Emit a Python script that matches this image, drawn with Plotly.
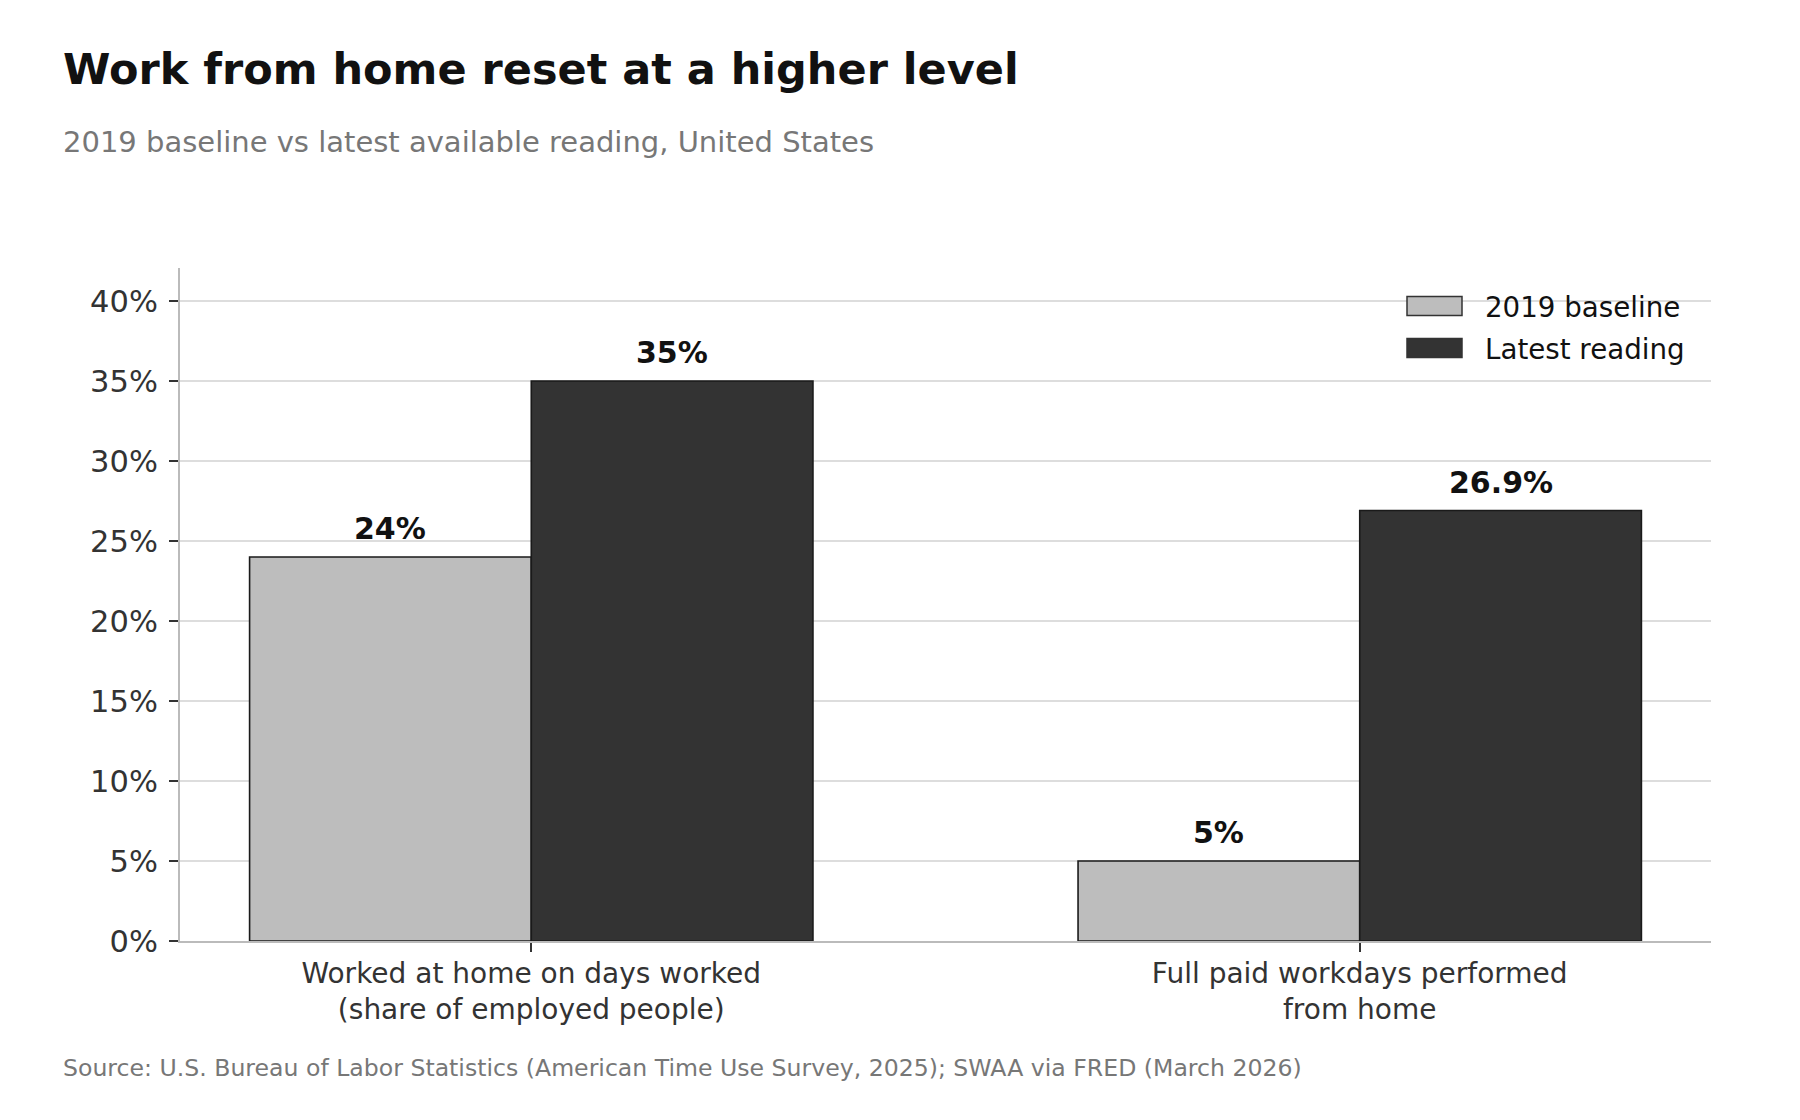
import plotly.graph_objects as go

# data
categories = ["Worked at home on days worked<br>(share of employed people)",
              "Full paid workdays performed<br>from home"]
series_names = ["2019 baseline", "Latest reading"]
baseline_2019 = [24, 5]
latest_reading = [35, 26.9]
y_ticks = [0, 5, 10, 15, 20, 25, 30, 35, 40]

colors = ["#bdbdbd", "#333333"]
FONT = "DejaVu Sans"

W, H = 1800, 1120
L, R, T, B = 172, 97, 260, 187
PW, PH = W - L - R, H - T - B


def px_x(x):
    return (x - L) / PW


def px_y(y):
    return (H - B - y) / PH


fig = go.Figure()
for name, vals, col in zip(series_names, [baseline_2019, latest_reading], colors):
    fig.add_trace(go.Bar(
        x=categories, y=vals, name=name,
        marker=dict(color=col, line=dict(color="#1a1a1a", width=1.6)),
        showlegend=False,
    ))

annotations = []
# value labels above the bars
for k, vals in enumerate([baseline_2019, latest_reading]):
    off = -0.17 if k == 0 else 0.17
    for i, v in enumerate(vals):
        annotations.append(dict(
            x=i + off, y=v, xref="x", yref="y", text=f"<b>{v:g}%</b>",
            showarrow=False, yanchor="bottom", yshift=9,
            font=dict(family=FONT, size=30, color="#111111"),
        ))

# subtitle and source
annotations.append(dict(
    x=px_x(53), y=px_y(134), xref="paper", yref="paper", xanchor="left", yanchor="middle",
    text="2019 baseline vs latest available reading, United States", showarrow=False,
    font=dict(family=FONT, size=29, color="#777777"),
))
annotations.append(dict(
    x=px_x(53), y=px_y(1060), xref="paper", yref="paper", xanchor="left", yanchor="middle",
    text="Source: U.S. Bureau of Labor Statistics (American Time Use Survey, 2025); SWAA via FRED (March 2026)",
    showarrow=False, font=dict(family=FONT, size=23.6, color="#777777"),
))

# legend drawn by hand so the swatches match the reference size
shapes = []
for j, (name, col) in enumerate(zip(series_names, colors)):
    yc = 298 + j * 42
    shapes.append(dict(
        type="rect", xref="paper", yref="paper",
        x0=px_x(1399), x1=px_x(1454), y0=px_y(yc - 9.5), y1=px_y(yc + 9.5),
        fillcolor=col, line=dict(color="#333333", width=1.5),
    ))
    annotations.append(dict(
        x=px_x(1475), y=px_y(yc + 1), xref="paper", yref="paper", xanchor="left", yanchor="middle",
        text=name, showarrow=False, font=dict(family=FONT, size=27.7, color="#111111"),
    ))

fig.update_layout(
    width=W, height=H,
    margin=dict(l=L, r=R, t=T, b=B),
    paper_bgcolor="white", plot_bgcolor="white",
    barmode="group", bargap=0.32, bargroupgap=0,
    font=dict(family=FONT, color="#333333"),
    title=dict(
        text="<b>Work from home reset at a higher level</b>",
        x=55 / W, xref="container", xanchor="left",
        y=1 - 61 / H, yref="container", yanchor="middle",
        font=dict(family=FONT, size=43, color="#111111"),
    ),
    annotations=annotations,
    shapes=shapes,
)

fig.update_xaxes(
    range=[-0.424, 1.424],
    showline=True, linecolor="#bbbbbb", linewidth=2,
    ticks="outside", ticklen=9, tickwidth=2, tickcolor="#333333",
    tickfont=dict(family=FONT, size=28, color="#333333"),
    showgrid=False,
    ticklabelstandoff=-3,
)
fig.update_yaxes(
    range=[0, 42.06],
    tickmode="array", tickvals=y_ticks, ticktext=[f"{v}%" for v in y_ticks],
    showline=True, linecolor="#bbbbbb", linewidth=2,
    ticks="outside", ticklen=9, tickwidth=2, tickcolor="#333333",
    tickfont=dict(family=FONT, size=30.5, color="#333333"),
    showgrid=True, gridcolor="#dddddd", gridwidth=1.5,
    zeroline=False,
    ticklabelstandoff=5,
)

fig.write_html("out.html")
